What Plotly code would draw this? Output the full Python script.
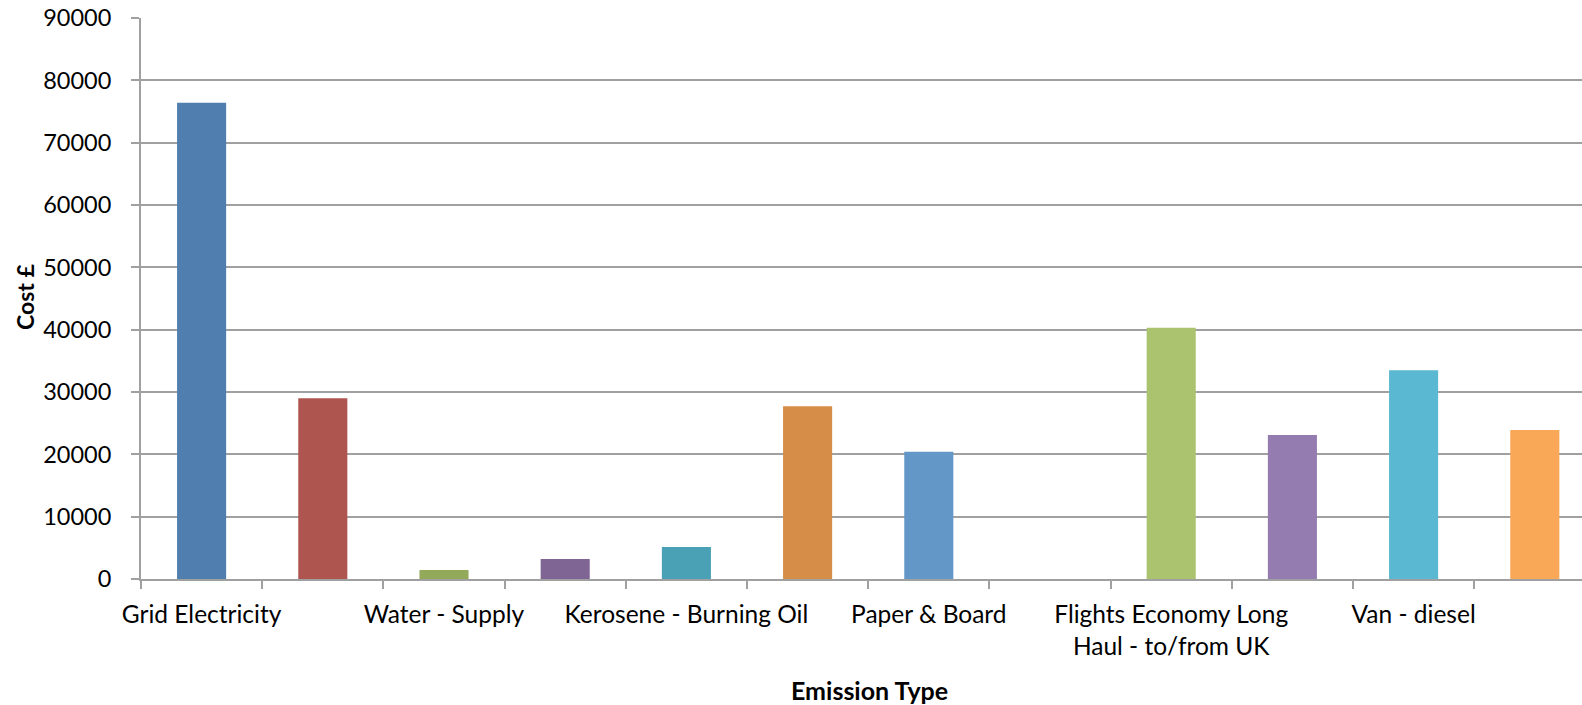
import plotly.graph_objects as go

# Cost per emission type (every other category label is shown on the axis)
tick_labels = [
    "Grid Electricity", "", "Water - Supply", "", "Kerosene - Burning Oil", "",
    "Paper & Board", "", "Flights Economy Long<br>Haul - to/from UK", "", "Van - diesel", "",
]
costs = [76400, 29000, 1450, 3200, 5150, 27700, 20400, 0, 40300, 23100, 33500, 23900]
bar_colors = [
    "#507EAE", "#AE5550", "#92A95A", "#7F6594", "#4AA1B5", "#D68D47",
    "#6297C8", "#A5A5A5", "#ABC36E", "#947CB0", "#5BB8D2", "#F9A858",
]
y_ticks = [0, 10000, 20000, 30000, 40000, 50000, 60000, 70000, 80000, 90000]

positions = list(range(len(costs)))
FONT = "Lato"
GRID = "#A0A0A0"

fig = go.Figure(
    go.Bar(
        x=positions,
        y=costs,
        marker=dict(color=bar_colors, line=dict(width=0)),
        width=0.405,
        hoverinfo="skip",
    )
)

labeled = [i for i, t in enumerate(tick_labels) if t]

fig.update_layout(
    width=1582,
    height=705,
    margin=dict(l=141, r=0, t=18, b=126),
    plot_bgcolor="white",
    paper_bgcolor="white",
    showlegend=False,
    font=dict(family=FONT, size=23, color="black"),
    xaxis=dict(
        range=[-0.5, -0.5 + (1582 - 141) / 121.2],
        tickmode="array",
        tickvals=labeled,
        ticktext=[tick_labels[i] for i in labeled],
        ticks="",
        ticklen=0,
        showgrid=False,
        showline=True,
        linecolor=GRID,
        linewidth=2,
        zeroline=False,
        minor=dict(
            tickmode="array",
            tickvals=[i - 0.5 for i in range(len(costs) + 1)],
            ticks="outside",
            ticklen=8,
            tickwidth=2,
            tickcolor=GRID,
            showgrid=False,
        ),
        tickfont=dict(family=FONT, size=24.5, color="black"),
        ticklabelstandoff=13,
    ),
    yaxis=dict(
        range=[0, 90000],
        tickmode="array",
        tickvals=y_ticks,
        ticktext=[str(v) for v in y_ticks],
        ticks="outside",
        ticklen=8,
        tickwidth=2,
        tickcolor=GRID,
        showgrid=True,
        gridcolor=GRID,
        gridwidth=2,
        showline=True,
        linecolor=GRID,
        linewidth=2,
        zeroline=False,
        tickfont=dict(family=FONT, size=23.5, color="black"),
        ticklabelstandoff=15,
    ),
    annotations=[
        dict(
            text="<b>Emission Type</b>",
            xref="paper", yref="paper",
            x=(869 - 141) / (1582 - 141), y=-(690 - 579) / (579 - 18),
            xanchor="center", yanchor="middle",
            showarrow=False,
            font=dict(family=FONT, size=25, color="black"),
        ),
        dict(
            text="<b>Cost £</b>",
            xref="paper", yref="paper",
            x=-(141 - 25) / (1582 - 141), y=(579 - 297) / (579 - 18),
            xanchor="center", yanchor="middle",
            textangle=-90,
            showarrow=False,
            font=dict(family=FONT, size=23, color="black"),
        ),
    ],
)

fig.write_html("out.html")
